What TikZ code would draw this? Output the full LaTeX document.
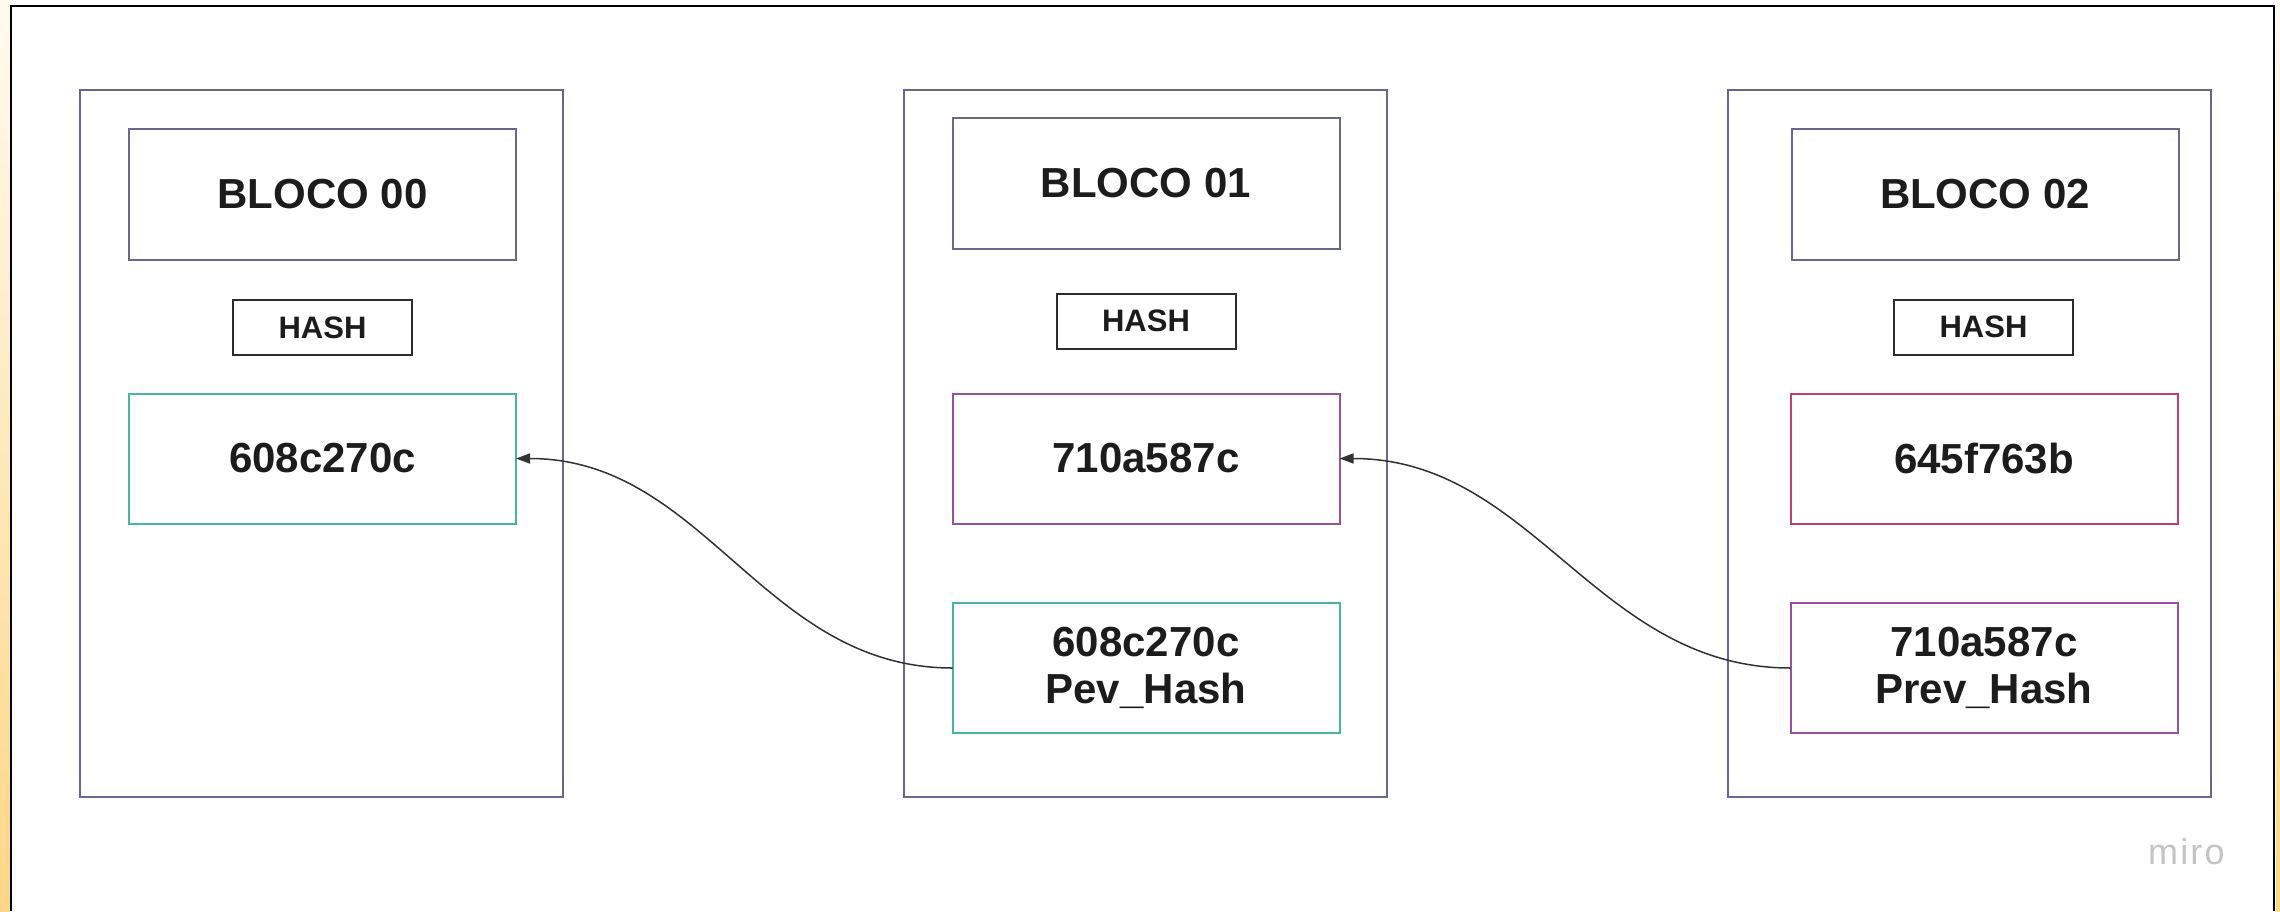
\documentclass[tikz,border=0pt]{standalone}
\usepackage{fontspec}
\setmainfont{Liberation Sans}
\newfontfamily\mirofont[LetterSpace=6]{Liberation Sans}
\usetikzlibrary{arrows.meta}
\definecolor{blkcol}{RGB}{104,104,142}
\definecolor{tealc}{RGB}{74,180,162}
\definecolor{purpc}{RGB}{150,82,158}
\definecolor{crimc}{RGB}{196,62,112}
\definecolor{hashc}{RGB}{45,45,45}
\definecolor{txtc}{RGB}{28,28,28}
\definecolor{miroc}{RGB}{196,196,196}
\definecolor{stripetop}{RGB}{255,250,240}
\definecolor{stripebot}{RGB}{253,214,134}
\newcommand\bigtxt{\fontsize{42}{47}\selectfont\bfseries}
\newcommand\hashtxt{\fontsize{31}{31}\selectfont\bfseries}
\tikzset{
  blk/.style={draw=blkcol, line width=2pt, minimum width=483pt, minimum height=707pt, inner sep=0pt, outer sep=0pt},
  hdr/.style={draw=blkcol, line width=2pt, minimum width=387pt, minimum height=131pt, inner sep=0pt, outer sep=0pt, font=\bigtxt, text=txtc},
  hashbox/.style={draw=hashc, line width=2pt, minimum width=179pt, minimum height=55pt, inner sep=0pt, outer sep=0pt, font=\hashtxt, text=txtc},
  val/.style={line width=2pt, minimum width=387pt, minimum height=130pt, inner sep=0pt, outer sep=0pt, font=\bigtxt, text=txtc, align=center},
  conn/.style={draw={rgb,255:red,50;green,50;blue,50}, line width=1.5pt, -{Triangle[length=14pt,width=10pt]}},
  frameline/.style={draw=black, line width=2.5pt}
}
\begin{document}
\begin{tikzpicture}[x=1pt,y=-1pt]
\useasboundingbox (0,0) rectangle (2280,911);
\fill[white] (0,0) rectangle (2280,911);
\shade[top color=stripetop, bottom color=stripebot] (0,0) rectangle (10,911);
\shade[top color=stripetop, bottom color=stripebot] (2276,0) rectangle (2280,911);
\draw[frameline] (11,911) -- (11,6) -- (2274,6) -- (2274,911);

% blocks
\node[blk] (b0) at (321.5,443.5) {};
\node[blk] (b1) at (1145.5,443.5) {};
\node[blk] (b2) at (1969,443.5) {};

% headers
\node[hdr] (h0) at (322.5,194.5) {BLOCO 00};
\node[hdr] (h1) at (1146,183.5) {BLOCO 01};
\node[hdr] (h2) at (1985,194.5) {BLOCO 02};

% hash labels
\node[hashbox] (s0) at (322.5,327.5) {HASH};
\node[hashbox] (s1) at (1146,321) {HASH};
\node[hashbox] (s2) at (1983.5,327) {HASH};

% hash values
\node[val, draw=tealc] (v0) at (322.5,458.5) {608c270c};
\node[val, draw=purpc] (v1) at (1146,458.5) {710a587c};
\node[val, draw=crimc] (v2) at (1984,458.5) {645f763b};

% previous hashes
\node[val, draw=tealc] (p1) at (1146,668) {608c270c\\Pev\_Hash};
\node[val, draw=purpc] (p2) at (1984,668) {710a587c\\Prev\_Hash};

% connectors
\draw[conn] (p1.west) to[out=180,in=0] (v0.east);
\draw[conn] (p2.west) to[out=180,in=0] (v1.east);

% watermark
\node[text=miroc, font=\mirofont\fontsize{36}{36}\selectfont, anchor=base west, inner sep=0pt] (miro) at (2148,864) {miro};
\end{tikzpicture}
\end{document}
